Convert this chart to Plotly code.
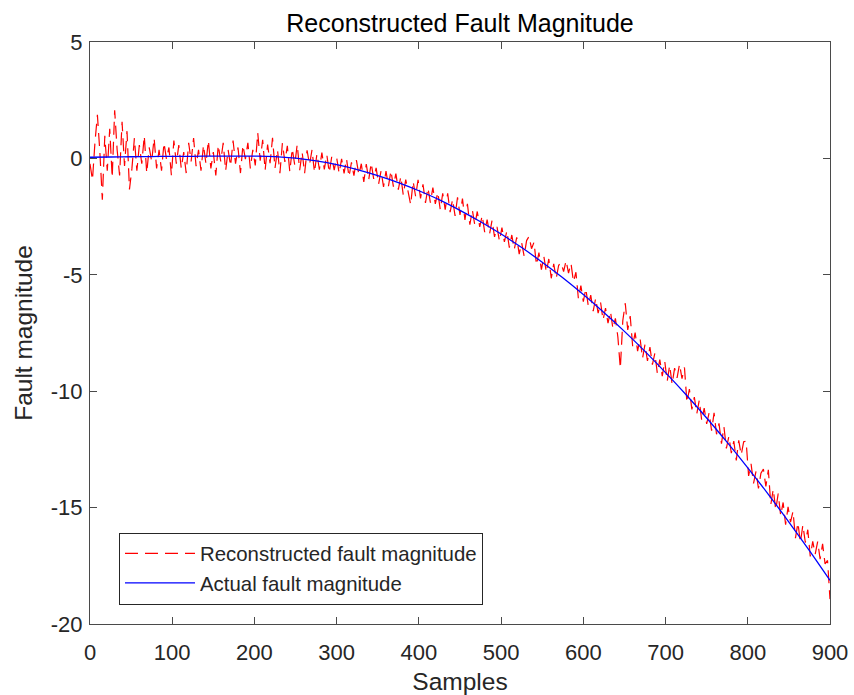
import plotly.graph_objects as go

# Reconstructed fault magnitude, every 3 samples (0..900)
recon_samples = list(range(0, 901, 3))
recon_values = [
    # 0 .. 198
    -0.23, -0.93, 0.67, 1.87, 0.27, -1.78, 0.97, -0.53, 1.27, -0.83,
    2.07, 0.37, -0.73, 1.57, -0.33, 1.17, -1.33, -0.43, 0.87, -0.53,
    0.57, -0.23, 0.97, -0.63, 0.47, -0.13, 0.87, -0.43, 0.37, -0.53,
    0.67, -0.03, 0.47, -0.73, 0.77, -0.23, 0.57, -0.43, 0.27, -0.63,
    0.67, -0.13, 0.87, -0.33, 0.37, -0.53, 0.57, -0.23, 0.77, -0.43,
    0.27, -0.73, 0.57, -0.13, 0.67, -0.53, 0.37, -0.33, 0.77, -0.23,
    0.47, -0.63, 0.57, -0.03, 0.67, -0.43, 0.37,
    # 201 .. 300
    -0.30, 1.10, -0.10, 0.80, -0.51, 0.59, -0.21, 0.88, -0.42, 0.37,
    -0.64, 0.66, -0.15, 0.54, -0.57, 0.42, -0.29, 0.60, -0.51, 0.27,
    -0.64, 0.35, -0.27, 0.37, -0.60, 0.19, -0.48, 0.25, -0.47, 0.16,
    -0.61, 0.07, -0.50, 0.03,
    # 303 .. 399
    -0.64, -0.02, -0.64, -0.02, -0.79, -0.17, -0.74, -0.07, -0.70, -0.23,
    -1.01, -0.24, -0.92, -0.20, -0.88, -0.41, -1.10, -0.53, -1.22, -0.55,
    -1.19, -0.53, -1.21, -0.65, -1.34, -0.78, -1.57, -0.91, -1.50, -1.99,
    -0.99, -1.63, -0.92,
    # 402 .. 501
    -1.72, -1.11, -1.91, -1.26, -1.90, -1.25, -1.95, -1.45, -2.20, -1.50,
    -2.20, -1.50, -2.31, -1.76, -2.47, -1.67, -2.43, -1.73, -2.64, -1.95,
    -2.85, -2.21, -2.87, -2.28, -2.94, -2.45, -3.17, -2.63, -3.24, -2.66,
    -3.37, -2.94, -3.55, -2.97,
    # 504 .. 600
    -3.59, -3.11, -3.83, -3.29, -3.91, -3.39, -4.11, -3.63, -4.20, -3.53,
    -3.35, -3.88, -3.60, -4.58, -4.05, -4.78, -4.21, -4.89, -4.32, -5.15,
    -4.53, -5.16, -4.59, -4.48, -4.86, -4.39, -4.93, -4.51, -5.30, -4.89,
    -6.03, -5.46, -6.15,
    # 603 .. 699
    -5.59, -6.33, -5.87, -6.56, -6.01, -6.65, -6.19, -6.94, -6.43, -7.08,
    -6.57, -7.32, -6.87, -7.67, -9.02, -6.97, -6.22, -7.37, -6.77, -8.07,
    -7.48, -8.28, -7.73, -8.59, -7.99, -8.70, -8.11, -8.86, -8.37, -9.23,
    -8.64, -9.35, -8.71,
    # 702 .. 801
    -9.57, -8.89, -9.70, -9.01, -9.43, -8.84, -9.46, -8.98, -10.49, -9.91,
    -10.78, -10.25, -10.97, -10.39, -11.26, -10.73, -11.40, -10.93, -11.70, -10.93,
    -11.85, -11.38, -12.25, -11.53, -12.46, -11.94, -12.66, -12.14, -12.97, -12.11,
    -12.74, -12.17, -12.15, -13.64,
    # 804 .. 900
    -13.12, -13.96, -13.44, -14.18, -13.52, -13.35, -14.09, -13.38, -14.87, -14.21,
    -15.10, -14.40, -15.34, -14.78, -15.73, -14.97, -15.62, -15.16, -16.31, -15.65,
    -16.50, -15.75, -16.50, -15.95, -17.10, -16.45, -17.00, -16.46, -17.21, -16.56,
    -17.42, -17.27, -18.93,
]

# Actual fault magnitude, every 25 samples
actual_samples = list(range(0, 901, 25))
actual_values = [
    0.05, 0.06, 0.07, 0.08, 0.09, 0.09, 0.10, 0.10, 0.10, 0.08,
    0.01, -0.11, -0.27, -0.48, -0.74, -1.04, -1.39, -1.78, -2.23, -2.72,
    -3.25, -3.83, -4.46, -5.13, -5.85, -6.62, -7.43, -8.29, -9.20, -10.15,
    -11.15, -12.20, -13.29, -14.43, -15.62, -16.85, -18.13,
]

x_ticks = list(range(0, 901, 100))
y_ticks = [-20, -15, -10, -5, 0, 5]

FONT = "Liberation Sans, Arial, Helvetica, sans-serif"
AXIS_COLOR = "#4a4a4a"
TEXT_COLOR = "#262626"

fig = go.Figure()
fig.add_trace(go.Scatter(
    x=recon_samples, y=recon_values, mode="lines",
    name="Reconstructed fault magnitude",
    line=dict(color="#ff0000", width=1.2, dash="13px,7px"),
))
fig.add_trace(go.Scatter(
    x=actual_samples, y=actual_values, mode="lines",
    name="Actual fault magnitude",
    line=dict(color="#0000ff", width=1.3, shape="spline"),
))

axis_common = dict(
    showgrid=False, zeroline=False, showline=True, mirror="ticks",
    linecolor=AXIS_COLOR, linewidth=1,
    ticks="inside", ticklen=7, tickcolor=AXIS_COLOR, tickwidth=1,
    tickfont=dict(family=FONT, size=22, color=TEXT_COLOR),
    automargin=False,
)

fig.update_layout(
    width=854, height=695,
    margin=dict(l=90, r=24, t=42, b=71),
    paper_bgcolor="white", plot_bgcolor="white",
    font=dict(family=FONT, color=TEXT_COLOR),
    title=dict(
        text="Reconstructed Fault Magnitude",
        x=(287 + 633) / 2 / 854, xanchor="center",
        y=1 - 23 / 695, yanchor="middle", yref="container",
        font=dict(family=FONT, size=25, color="#000000"),
    ),
    xaxis=dict(
        range=[0, 900], tickvals=x_ticks, ticktext=[str(v) for v in x_ticks],
        ticklabelstandoff=9,
        title=dict(text="Samples", font=dict(family=FONT, size=24.5, color=TEXT_COLOR), standoff=10),
        **axis_common,
    ),
    yaxis=dict(
        range=[-20, 5], tickvals=y_ticks, ticktext=[str(v) for v in y_ticks],
        ticklabelstandoff=2,
        title=dict(text="Fault magnitude", font=dict(family=FONT, size=24.5, color=TEXT_COLOR), standoff=11),
        **axis_common,
    ),
    legend=dict(
        x=(119 - 90) / 740, y=(624.5 - 533) / 582.5,
        xanchor="left", yanchor="top",
        bgcolor="white", bordercolor=TEXT_COLOR, borderwidth=1,
        font=dict(family=FONT, size=20.4, color=TEXT_COLOR),
        itemwidth=70, tracegroupgap=0,
    ),
    showlegend=True,
)

fig.write_html("out.html")
